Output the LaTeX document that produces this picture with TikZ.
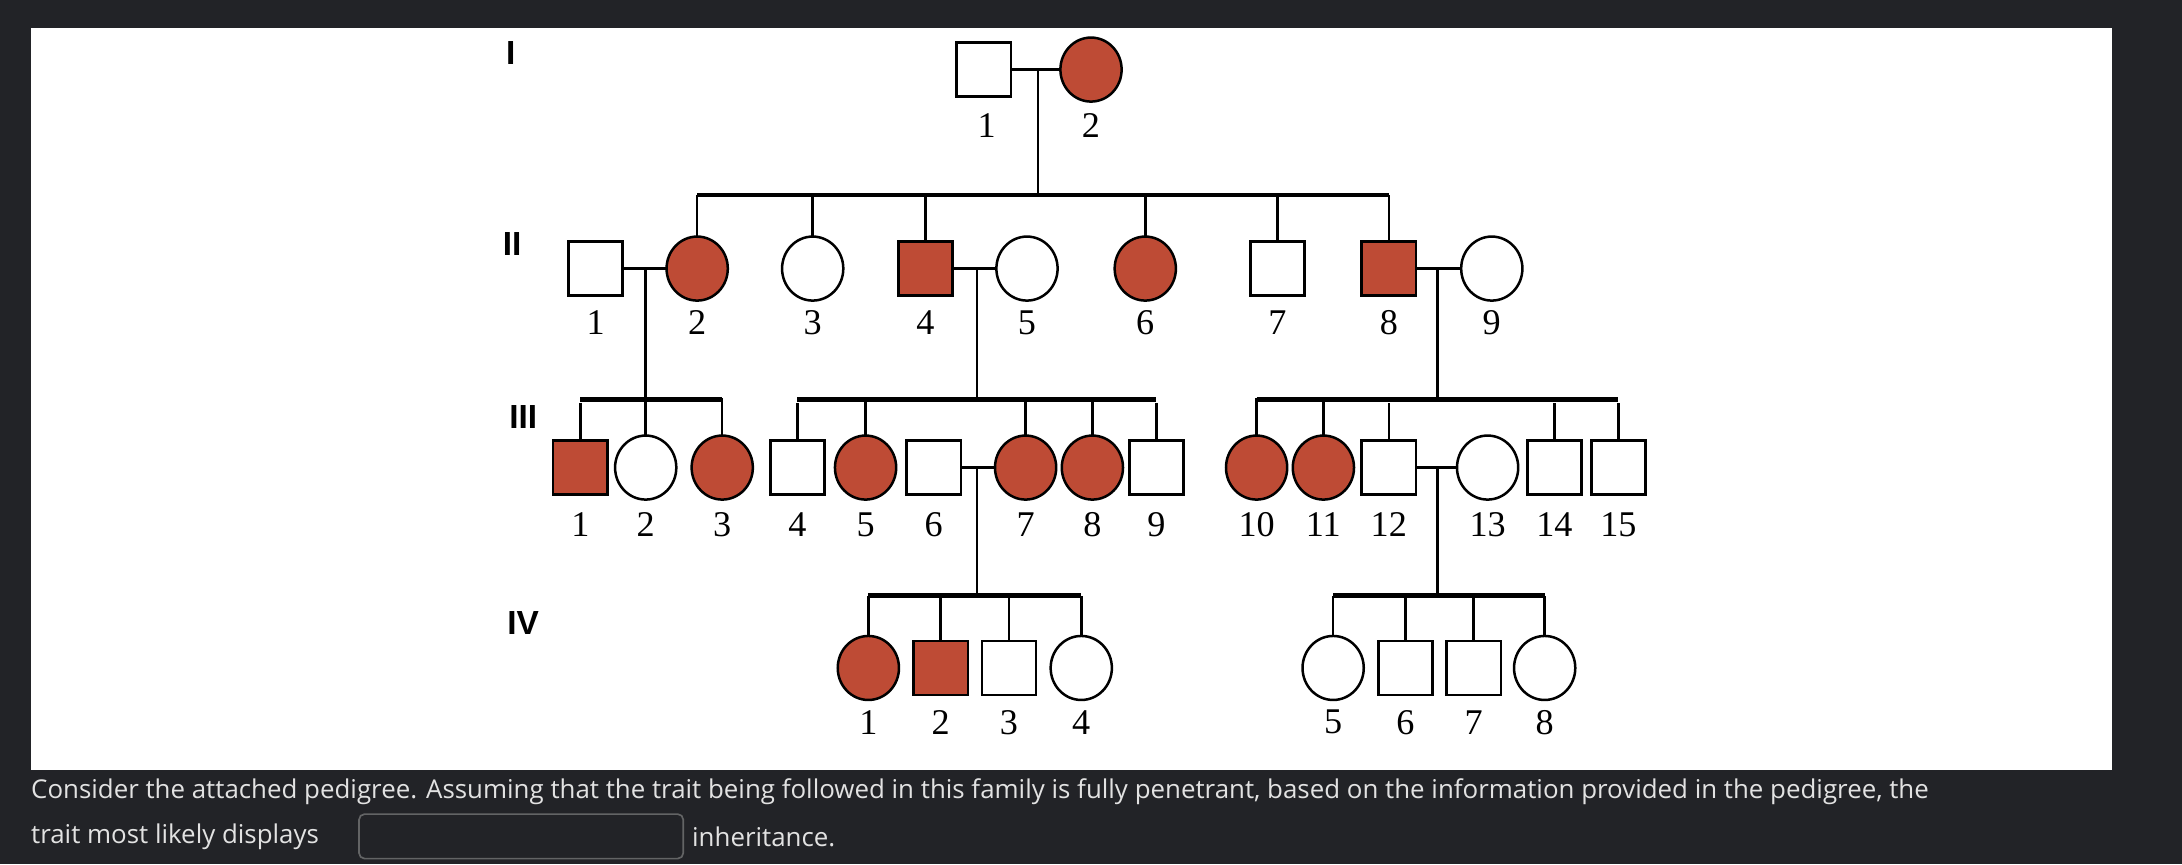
\documentclass[tikz,border=0pt]{standalone}
\usepackage{fontspec}
\setmainfont{Liberation Serif}
\newfontfamily\osans{Open Sans}
\newfontfamily\lsans{Liberation Sans}
\begin{document}
\begin{tikzpicture}[x=0.5pt,y=-0.5pt,
  sq/.style={draw=black,line width=0.9pt,fill=white,minimum width=19.5pt,minimum height=19.5pt,inner sep=0,outer sep=0},
  ci/.style={draw=black,line width=0.9pt,fill=white,ellipse,minimum width=22pt,minimum height=23pt,inner sep=0,outer sep=0},
  aff/.style={fill=aff},
  lab/.style={font=\fontsize{13}{13}\selectfont},
  gen/.style={font=\lsans\bfseries\fontsize{12}{12}\selectfont},
  ln/.style={line width=0.9pt},
  sib/.style={line width=1.6pt},
  q/.style={font=\osans\fontsize{9.3}{9.3}\selectfont,text=qtext,anchor=west,inner sep=0}]
\usetikzlibrary{shapes.geometric}
\definecolor{aff}{HTML}{BE4B35}
\definecolor{bg}{HTML}{222327}
\definecolor{qtext}{HTML}{E2E2E2}
\useasboundingbox (0,0) rectangle (1568,621);
\fill[bg] (0,0) rectangle (1568,621);
\fill[white] (22,20) rectangle (1518,553);
% generation labels
\node[gen] at (367,38) {I};
\node[gen] at (368,175) {II};
\node[gen] at (376,300) {III};
\node[gen] at (376,448) {IV};
% Gen I
\node[sq] (I1) at (707,50) {};
\node[ci,aff] (I2) at (784,50) {};
\node[lab] at (709,90) {1}; \node[lab] at (784,90) {2};
\draw[ln] (I1.east) -- (I2.west);
\coordinate (m1) at (746,50); \coordinate (s1) at (746,140);
\draw[ln] (m1) -- (s1);
% Gen II
\foreach \n/\x/\s/\a in {1/428/sq/0,2/501/ci/1,3/584/ci/0,4/665/sq/1,5/738/ci/0,6/823/ci/1,7/918/sq/0,8/998/sq/1,9/1072/ci/0}{
  \ifnum\a=1 \node[\s,aff] (II\n) at (\x,193) {}; \else \node[\s] (II\n) at (\x,193) {}; \fi
  \node[lab] at (\x,232) {\n};
}
\draw[sib] (501,140) -- (998,140);
\foreach \n in {2,3,4,6,7,8}{ \draw[ln] (II\n.north) -- (II\n.north |- s1); }
\draw[ln] (II1.east) -- (II2.west);
\draw[ln] (II4.east) -- (II5.west);
\draw[ln] (II8.east) -- (II9.west);
\coordinate (m2) at (464,193); \coordinate (m3) at (702,193); \coordinate (m4) at (1033,193);
\draw[ln] (m2) -- (464,287);
\draw[ln] (m3) -- (702,287);
\draw[ln] (m4) -- (1033,287);
% Gen III
\foreach \n/\x/\s/\a in {1/417/sq/1,2/464/ci/0,3/519/ci/1,4/573/sq/0,5/622/ci/1,6/671/sq/0,7/737/ci/1,8/785/ci/1,9/831/sq/0,10/903/ci/1,11/951/ci/1,12/998/sq/0,13/1069/ci/0,14/1117/sq/0,15/1163/sq/0}{
  \ifnum\a=1 \node[\s,aff] (III\n) at (\x,336) {}; \else \node[\s] (III\n) at (\x,336) {}; \fi
  \node[lab] at (\x,377) {\n};
}
\draw[sib] (417,287) -- (519,287);
\draw[sib] (573,287) -- (831,287);
\draw[sib] (903,287) -- (1163,287);
\foreach \n in {1,2,3,4,5,7,8,9,10,11,12,14,15}{ \draw[ln] (III\n.north) -- ++(0,-27); }
\draw[ln] (III6.east) -- (III7.west);
\draw[ln] (III12.east) -- (III13.west);
\draw[ln] (702,337) -- (702,428);
\draw[ln] (1033,337) -- (1033,428);
% Gen IV
\foreach \n/\x/\s/\a in {1/624/ci/1,2/676/sq/1,3/725/sq/0,4/777/ci/0,5/958/ci/0,6/1010/sq/0,7/1059/sq/0,8/1110/ci/0}{
  \ifnum\a=1 \node[\s,aff] (IV\n) at (\x,480) {}; \else \node[\s] (IV\n) at (\x,480) {}; \fi
  \node[lab] at (\x,519) {\n};
}
\draw[sib] (624,428) -- (777,428);
\draw[sib] (958,428) -- (1110,428);
\foreach \n in {1,2,3,4,5,6,7,8}{ \draw[ln] (IV\n.north) -- (IV\n.north |- 0,428); }
% question text
\node[q] (t1) at (22,569) {Consider the attached pedigree. Assuming that the trait being followed in this family is fully penetrant, based on the information provided in the pedigree, the};
\node[q] (t2) at (22,601) {trait most likely displays};
\draw[draw=gray!70!bg,line width=0.6pt,rounded corners=2pt] (258,585) rectangle (491,617);
\node[q] (t3) at (497,601) {inheritance.};
\end{tikzpicture}
\end{document}
